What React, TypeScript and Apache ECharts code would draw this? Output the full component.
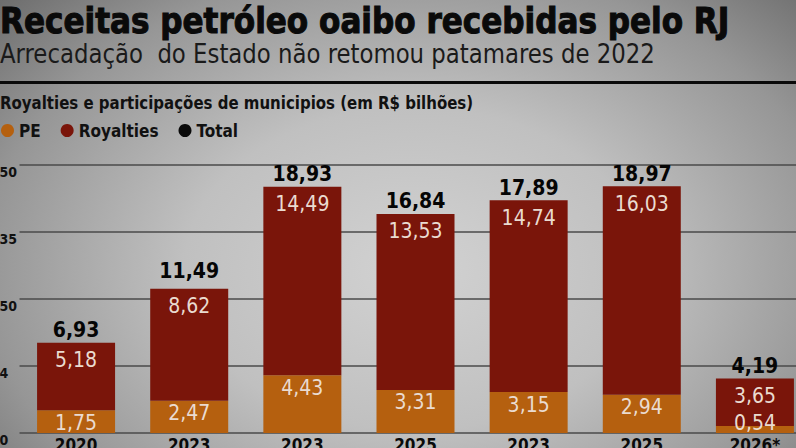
import React, { useEffect, useRef } from "react";
import * as echarts from "echarts";

const categories = ["2020", "2023", "2023", "2025", "2023", "2025", "2026*"];
const peValues = [1.75, 2.47, 4.43, 3.31, 3.15, 2.94, 0.54];
const royaltiesValues = [5.18, 8.62, 14.49, 13.53, 14.74, 16.03, 3.65];
const totalValues = [6.93, 11.49, 18.93, 16.84, 17.89, 18.97, 4.19];
const yTickLabels = ["0", "4", "50", "35", "50"];
const yTickStep = 5.15;
const yMax = 20.6;

const titleText = "Receitas petróleo oaibo recebidas pelo RJ";
const subtitleText = "Arrecadação  do Estado não retomou patamares de 2022";
const headingText = "Royalties e participações de municipios (em R$ bilhões)";

const COND = "'DejaVu Sans Condensed', 'Liberation Sans Narrow', sans-serif";
const fmt = (v: number) => v.toFixed(2).replace(".", ",");

export default function App() {
  const ref = useRef<HTMLDivElement>(null);
  useEffect(() => {
    if (!ref.current) return;
    const chart = echarts.init(ref.current, undefined, { renderer: "svg" });
    const innerLabel = (distance: number) => ({
      show: true,
      position: "insideTop" as const,
      distance,
      color: "#eadbd0",
      fontFamily: COND,
      fontSize: 21,
      formatter: (p: any) => fmt(p.value),
    });
    chart.setOption({
      animation: false,
      backgroundColor: "transparent",
      grid: {
        left: 19.5,
        right: 0.5,
        top: 165,
        bottom: 15,
        containLabel: false,
        outerBoundsMode: "none",
      },
      legend: {
        left: -4,
        top: 117,
        icon: "circle",
        itemWidth: 13,
        itemHeight: 13,
        itemGap: 20,
        textStyle: { fontFamily: COND, fontWeight: "bold", fontSize: 17, color: "#111" },
        data: [
          { name: "PE", itemStyle: { color: "#b5600f", opacity: 1 } },
          { name: "Royalties", itemStyle: { color: "#7a150a", opacity: 1 } },
          { name: "Total", itemStyle: { color: "#0a0a0a", opacity: 1 } },
        ],
      },
      graphic: [
        {
          type: "text",
          x: 0,
          y: 2,
          scaleX: 0.96,
          style: {
            text: titleText,
            font: `bold 36px ${COND}`,
            fill: "#0a0a0a",
            stroke: "#0a0a0a",
            lineWidth: 1,
          },
        },
        {
          type: "text",
          x: 0,
          y: 40,
          scaleX: 0.94,
          style: { text: subtitleText, font: `27px ${COND}`, fill: "#1a1a1a" },
        },
        {
          type: "rect",
          shape: { x: 0, y: 81, width: 812, height: 3 },
          style: { fill: "#0a0a0a" },
        },
        {
          type: "text",
          x: 0,
          y: 94,
          scaleX: 0.98,
          style: { text: headingText, font: `bold 17px ${COND}`, fill: "#111" },
        },
      ],
      xAxis: {
        type: "category",
        data: categories,
        axisLine: { show: false },
        axisTick: { show: false },
        axisLabel: {
          interval: 0,
          margin: 3,
          fontFamily: COND,
          fontWeight: "bold",
          fontSize: 17,
          color: "#0a0a0a",
          verticalAlign: "top",
        },
      },
      yAxis: {
        type: "value",
        min: 0,
        max: yMax,
        interval: yTickStep,
        axisLine: { show: false },
        axisTick: { show: false },
        axisLabel: {
          align: "left",
          margin: 20,
          verticalAlign: "top",
          fontFamily: COND,
          fontWeight: "bold",
          fontSize: 14,
          color: "#111",
          formatter: (v: number) => yTickLabels[Math.round(v / yTickStep)] ?? "",
        },
        splitLine: { lineStyle: { color: "#4a4a4a", width: 1.5 } },
      },
      series: [
        {
          name: "PE",
          type: "bar",
          stack: "s",
          barWidth: 78,
          data: peValues.map((v) =>
            v < 1 ? { value: v, label: { position: "insideBottom", distance: 0 } } : v
          ),
          itemStyle: { color: "#b5600f" },
          label: innerLabel(2),
        },
        {
          name: "Royalties",
          type: "bar",
          stack: "s",
          barWidth: 78,
          data: royaltiesValues,
          itemStyle: { color: "#7a150a" },
          label: innerLabel(7),
        },
        {
          name: "Total",
          type: "scatter",
          data: totalValues,
          symbolSize: 0.01,
          itemStyle: { color: "#0a0a0a", opacity: 1 },
          label: {
            show: true,
            position: "top",
            distance: 2,
            color: "#050505",
            fontFamily: COND,
            fontWeight: "bold",
            fontSize: 21,
            formatter: (p: any) => fmt(p.value),
          },
        },
      ],
    });
    return () => chart.dispose();
  }, []);
  return (
    <div
      style={{
        position: "absolute",
        left: 0,
        top: 0,
        width: 796,
        height: 448,
        overflow: "hidden",
        background:
          "radial-gradient(ellipse 72% 90% at 52% 60%, #d2d2d2 0%, #c0c0c0 40%, #969696 75%, #6a6a6a 100%)",
      }}
    >
      <div ref={ref} style={{ width: 812, height: 448 }} />
    </div>
  );
}
